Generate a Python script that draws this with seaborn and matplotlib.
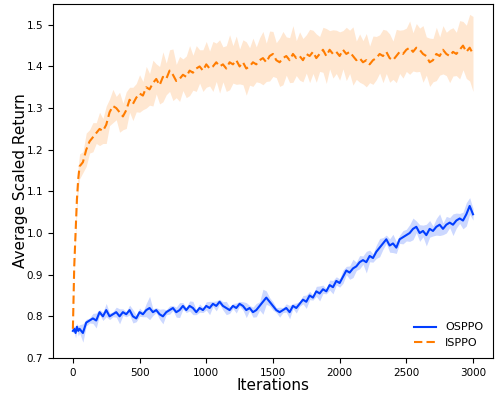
import numpy as np
import pandas as pd
import matplotlib
matplotlib.use("Agg")
import matplotlib.pyplot as plt
import seaborn as sns

# sample positions (dense at the start where ISPPO jumps)
iters = [0, 10, 20, 30, 40] + list(range(50, 3001, 25))

osppo = [0.765, 0.77, 0.76, 0.775, 0.765,
         0.77, 0.76, 0.785, 0.79, 0.795, 0.79, 0.81, 0.80, 0.815, 0.80,
         0.805, 0.81, 0.80, 0.81, 0.805, 0.815, 0.80, 0.795,
         0.81, 0.805, 0.815, 0.82, 0.81, 0.815, 0.805, 0.80, 0.81, 0.815,
         0.82, 0.81, 0.815, 0.825, 0.815, 0.825, 0.82, 0.81, 0.82, 0.815,
         0.825, 0.82, 0.83, 0.825, 0.835, 0.825, 0.82, 0.815, 0.825, 0.82,
         0.83, 0.825, 0.815, 0.82, 0.81, 0.815, 0.825, 0.835, 0.845, 0.835,
         0.825, 0.815, 0.81, 0.815, 0.82, 0.81, 0.825, 0.82, 0.83, 0.84,
         0.835, 0.85, 0.845, 0.86, 0.855, 0.865, 0.86, 0.875, 0.87, 0.885,
         0.88, 0.895, 0.91, 0.905, 0.915, 0.92, 0.93, 0.935, 0.93, 0.945,
         0.94, 0.955, 0.965, 0.975, 0.985, 0.97, 0.975, 0.965, 0.985, 0.99,
         0.995, 1.0, 1.01, 1.015, 1.0, 1.005, 0.995, 1.01, 1.005, 1.015,
         1.02, 1.01, 1.02, 1.025, 1.02, 1.03, 1.035, 1.03, 1.045, 1.065,
         1.045]

isppo = [0.77, 0.92, 1.00, 1.08, 1.13,
         1.16, 1.17, 1.20, 1.22, 1.23, 1.24, 1.25, 1.245, 1.26, 1.29,
         1.305, 1.30, 1.29, 1.28, 1.295, 1.32, 1.31, 1.325,
         1.335, 1.33, 1.35, 1.345, 1.36, 1.37, 1.355, 1.375, 1.37, 1.39,
         1.38, 1.365, 1.37, 1.38, 1.375, 1.39, 1.385, 1.395, 1.40, 1.39,
         1.405, 1.395, 1.40, 1.41, 1.40, 1.405, 1.395, 1.41, 1.405, 1.415,
         1.40, 1.41, 1.395, 1.40, 1.41, 1.405, 1.415, 1.42, 1.41, 1.425,
         1.43, 1.415, 1.41, 1.42, 1.425, 1.415, 1.43, 1.42, 1.425, 1.415,
         1.43, 1.425, 1.435, 1.42, 1.43, 1.44, 1.425, 1.44, 1.43, 1.435,
         1.425, 1.44, 1.43, 1.435, 1.425, 1.415, 1.42, 1.41, 1.415, 1.405,
         1.415, 1.42, 1.43, 1.425, 1.435, 1.42, 1.415, 1.425, 1.435, 1.43,
         1.44, 1.445, 1.435, 1.445, 1.44, 1.43, 1.425, 1.41, 1.415, 1.43,
         1.425, 1.44, 1.43, 1.425, 1.435, 1.43, 1.44, 1.45, 1.435, 1.445,
         1.43]

# half width of the shaded band
osppo_hw = [0.004, 0.008, 0.012, 0.008, 0.012,
            0.01, 0.022, 0.008, 0.006, 0.012, 0.018, 0.006, 0.01, 0.016, 0.008,
            0.006, 0.012, 0.018, 0.008, 0.006, 0.012, 0.016, 0.008,
            0.01, 0.006, 0.016, 0.028, 0.008, 0.006, 0.012, 0.018, 0.006, 0.01,
            0.006, 0.012, 0.018, 0.008, 0.006, 0.012, 0.016, 0.006, 0.01, 0.006,
            0.01, 0.016, 0.006, 0.012, 0.006, 0.01, 0.016, 0.008, 0.006, 0.012,
            0.006, 0.01, 0.018, 0.006, 0.012, 0.016, 0.01, 0.03, 0.016, 0.01,
            0.01, 0.006, 0.012, 0.006, 0.01, 0.016, 0.006, 0.012, 0.006, 0.01,
            0.016, 0.01, 0.006, 0.012, 0.018, 0.01, 0.006, 0.012, 0.016, 0.01,
            0.01, 0.016, 0.01, 0.016, 0.022, 0.01, 0.016, 0.01, 0.026, 0.014,
            0.01, 0.016, 0.022, 0.014, 0.01, 0.016, 0.022, 0.014, 0.01, 0.016,
            0.014, 0.02, 0.026, 0.014, 0.02, 0.014, 0.026, 0.02, 0.012, 0.02,
            0.026, 0.014, 0.02, 0.012, 0.026, 0.018, 0.012, 0.02, 0.028, 0.02,
            0.014]

isppo_hw = [0.008, 0.015, 0.02, 0.025, 0.03,
            0.03, 0.025, 0.04, 0.028, 0.035, 0.025, 0.04, 0.03, 0.045, 0.032,
            0.04, 0.028, 0.048, 0.032, 0.044, 0.03, 0.04, 0.034,
            0.045, 0.034, 0.05, 0.038, 0.055, 0.036, 0.045, 0.06, 0.038, 0.05,
            0.062, 0.04, 0.054, 0.038, 0.05, 0.06, 0.042, 0.055, 0.04, 0.05,
            0.055, 0.042, 0.06, 0.046, 0.064, 0.042, 0.055, 0.066, 0.045, 0.058,
            0.042, 0.054, 0.064, 0.045, 0.058, 0.042, 0.054, 0.064, 0.046, 0.06,
            0.054, 0.042, 0.058, 0.064, 0.046, 0.054, 0.068, 0.042, 0.058, 0.052,
            0.046, 0.064, 0.052, 0.058, 0.042, 0.054, 0.066, 0.046, 0.058, 0.052,
            0.058, 0.046, 0.064, 0.052, 0.07, 0.046, 0.058, 0.052, 0.064, 0.044,
            0.058, 0.052, 0.046, 0.064, 0.052, 0.058, 0.046, 0.064, 0.052, 0.058,
            0.052, 0.064, 0.046, 0.058, 0.052, 0.068, 0.046, 0.058, 0.052, 0.064,
            0.046, 0.058, 0.052, 0.064, 0.058, 0.052, 0.07, 0.058, 0.064, 0.08,
            0.09]

colors = sns.color_palette("bright")
blue, orange = colors[0], colors[1]

df = pd.DataFrame({"Iterations": iters * 2,
                   "value": osppo + isppo,
                   "method": ["OSPPO"] * len(iters) + ["ISPPO"] * len(iters)})

fig, ax = plt.subplots(figsize=(4.99, 3.96), dpi=100)

x = np.array(iters)
ax.fill_between(x, np.array(osppo) - np.array(osppo_hw), np.array(osppo) + np.array(osppo_hw),
                color=blue, alpha=0.2, lw=0)
ax.fill_between(x, np.array(isppo) - np.array(isppo_hw), np.array(isppo) + np.array(isppo_hw),
                color=orange, alpha=0.18, lw=0)

sns.lineplot(data=df, x="Iterations", y="value", hue="method", style="method",
             palette={"OSPPO": blue, "ISPPO": orange},
             dashes={"OSPPO": "", "ISPPO": (4, 2)}, lw=1.5, ax=ax)

ax.set_ylim(0.7, 1.55)
ax.set_xlim(-150, 3150)
ax.set_xticks([0, 500, 1000, 1500, 2000, 2500, 3000])
ax.set_yticks([0.7, 0.8, 0.9, 1.0, 1.1, 1.2, 1.3, 1.4, 1.5])
ax.tick_params(labelsize=7.5)
ax.set_xlabel("Iterations", fontsize=11, labelpad=0)
ax.set_ylabel("Average Scaled Return", fontsize=11, labelpad=-1)
ax.legend(title=None, loc="lower right", frameon=False, fontsize=8)

fig.subplots_adjust(left=0.106, right=0.988, bottom=0.096, top=0.99)
fig.savefig("out.png")
